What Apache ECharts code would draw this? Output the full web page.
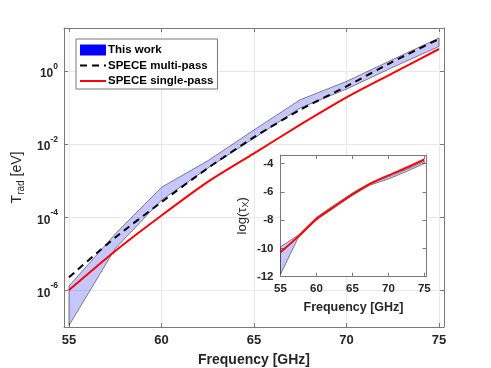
<!DOCTYPE html>
<html>
<head>
<meta charset="utf-8">
<script src="https://cdn.jsdelivr.net/npm/echarts@6/dist/echarts.min.js"></script>
<style>
html, body { margin: 0; padding: 0; background: #fff; }
#main { width: 491px; height: 368px; }
</style>
</head>
<body>
<div id="main"></div>
<script>
var freq = [55, 57.5, 60, 62.5, 65, 67.5, 70, 72.5, 75];

// main panel, T_rad [eV]
var workHigh = [1.32e-6, 3.5e-5, 6.6e-4, 3.5e-3, 0.0245, 0.164, 0.52, 2.07, 8.0];
var workLow = [1.1e-7, 1.4e-5, 2.95e-4, 2.2e-3, 0.0145, 0.098, 0.32, 1.26, 4.7];
var multiPass = [2.3e-6, 2.8e-5, 2.6e-4, 2.2e-3, 0.0155, 0.087, 0.38, 1.8, 7.5];
var singlePass = [1.02e-6, 1.2e-5, 1.12e-4, 9.3e-4, 5.6e-3, 0.034, 0.19, 0.87, 4.0];

// inset, log(tau_X)
var tauHigh = [-9.89, -9.05, -7.80, -6.92, -6.08, -5.38, -4.95, -4.42, -3.85];
var tauLow = [-11.84, -9.20, -7.98, -7.10, -6.25, -5.52, -5.10, -4.57, -4.00];
var tauSingle = [-10.27, -9.15, -7.93, -7.05, -6.18, -5.42, -4.84, -4.30, -3.72];

var FONT = "'Liberation Sans', Arial, sans-serif";
var AXIS_COLOR = '#7a7a7a';
var TEXT_COLOR = '#262626';

function pairs(ys) {
	return freq.map(function (f, i) { return [f, ys[i]]; });
}

function bandRenderer(lo, hi) {
	return function (params, api) {
		if (params.dataIndex !== 0) return;
		var pts = [];
		for (var i = 0; i < freq.length; i++) pts.push(api.coord([freq[i], hi[i]]));
		for (var j = freq.length - 1; j >= 0; j--) pts.push(api.coord([freq[j], lo[j]]));
		return {
			type: 'polygon',
			shape: { points: pts },
			style: { fill: 'rgba(0,0,255,0.22)', stroke: '#333', lineWidth: 0.6 }
		};
	};
}

function frameAxis(extra) {
	var base = {
		axisLine: { show: true, onZero: false, lineStyle: { color: AXIS_COLOR, width: 1 } },
		axisTick: { show: true, inside: true, length: 4, lineStyle: { color: AXIS_COLOR } },
		axisLabel: { show: false },
		splitLine: { show: false }
	};
	return Object.assign(base, extra);
}

var dom = document.getElementById('main');
var myChart = echarts.init(dom, null, { renderer: 'canvas' });

var option = {
	animation: false,
	textStyle: { fontFamily: FONT },
	grid: [
		{ left: 64, right: 47, top: 28, bottom: 41, outerBoundsMode: 'none' },
		{
			left: 280.5, right: 64.5, top: 155, bottom: 91.3, outerBoundsMode: 'none',
			show: true, backgroundColor: '#fff', borderWidth: 0, z: 5
		}
	],
	legend: {
		orient: 'vertical',
		left: 76,
		top: 39,
		itemWidth: 26,
		itemHeight: 11,
		itemGap: 3.5,
		padding: [5, 4, 2, 3],
		backgroundColor: '#fff',
		borderColor: AXIS_COLOR,
		borderWidth: 1,
		borderRadius: 0,
		selectedMode: false,
		textStyle: { fontFamily: FONT, fontSize: 11.5, fontWeight: 'bold', color: '#000', padding: [0, 0, 0, -3] },
		data: [
			{ name: 'This work', icon: 'rect' },
			{ name: 'SPECE multi-pass' },
			{ name: 'SPECE single-pass' }
		]
	},
	xAxis: [
		frameAxis({
			type: 'value', gridIndex: 0, position: 'bottom', min: 54.73, max: 75.27,
			axisLabel: {
				show: true, margin: 7, fontSize: 13, fontWeight: 'bold', color: TEXT_COLOR, fontFamily: FONT,
				formatter: function (v) { return Math.abs(v % 5) < 1e-6 ? String(v) : ''; }
			},
			splitLine: { show: true, lineStyle: { color: '#e8e8e8', width: 1 } },
			name: 'Frequency [GHz]', nameLocation: 'middle', nameGap: 26,
			nameTextStyle: { fontSize: 14, fontWeight: 'bold', color: TEXT_COLOR, fontFamily: FONT }
		}),
		frameAxis({ type: 'value', gridIndex: 0, position: 'top', min: 54.73, max: 75.27 }),
		frameAxis({
			type: 'value', gridIndex: 1, position: 'bottom', min: 55, max: 75.3, z: 6,
			axisLabel: {
				show: true, margin: 6, fontSize: 11.5, fontWeight: 'bold', color: TEXT_COLOR, fontFamily: FONT,
				formatter: function (v) { return Math.abs(v % 5) < 1e-6 ? String(v) : ''; }
			},
			name: 'Frequency [GHz]', nameLocation: 'middle', nameGap: 24,
			nameTextStyle: { fontSize: 12.5, fontWeight: 'bold', color: TEXT_COLOR, fontFamily: FONT }
		}),
		frameAxis({ type: 'value', gridIndex: 1, position: 'top', min: 55, max: 75.3, z: 6 })
	],
	yAxis: [
		frameAxis({
			type: 'log', logBase: 100, gridIndex: 0, position: 'left', min: 1e-7, max: 15,
			axisLabel: {
				show: true, margin: 6, color: TEXT_COLOR, fontFamily: FONT,
				formatter: function (v) {
					var l = Math.log10(v);
					var e = Math.round(l);
					if (Math.abs(l - e) > 1e-6 || e % 2 !== 0) return '';
					return '{b|10}{s|' + e + '}';
				},
				rich: {
					b: { fontSize: 12, fontWeight: 'bold', color: TEXT_COLOR, fontFamily: FONT, lineHeight: 18, verticalAlign: 'bottom' },
					s: { fontSize: 8.5, fontWeight: 'bold', color: TEXT_COLOR, fontFamily: FONT, lineHeight: 9, verticalAlign: 'top' }
				}
			},
			splitLine: { show: true, lineStyle: { color: '#e8e8e8', width: 1 } },
			name: 'T{sub|rad} [eV]', nameLocation: 'middle', nameRotate: 90, nameGap: 37,
			nameTextStyle: {
				fontSize: 14, color: TEXT_COLOR, fontFamily: FONT, lineHeight: 18,
				rich: { sub: { fontSize: 10, color: TEXT_COLOR, fontFamily: FONT, lineHeight: 9, verticalAlign: 'bottom' } }
			}
		}),
		frameAxis({ type: 'log', logBase: 100, gridIndex: 0, position: 'right', min: 1e-7, max: 15 }),
		frameAxis({
			type: 'value', gridIndex: 1, position: 'left', min: -12, max: -3.4, z: 6,
			axisLabel: {
				show: true, margin: 7, fontSize: 11.5, fontWeight: 'bold', color: TEXT_COLOR, fontFamily: FONT,
				formatter: function (v) { return Math.abs(v - Math.round(v)) < 1e-6 ? String(v) : ''; }
			},
			name: 'log(\u03c4{sub|X})', nameLocation: 'middle', nameRotate: 90, nameGap: 30,
			nameTextStyle: {
				fontSize: 13, color: TEXT_COLOR, fontFamily: FONT, lineHeight: 17,
				rich: { sub: { fontSize: 9, color: TEXT_COLOR, fontFamily: FONT, lineHeight: 9, verticalAlign: 'bottom' } }
			}
		}),
		frameAxis({ type: 'value', gridIndex: 1, position: 'right', min: -12, max: -3.4, z: 6 })
	],
	series: [
		{
			name: 'This work',
			type: 'custom',
			xAxisIndex: 0, yAxisIndex: 0,
			itemStyle: { color: '#0000ff' },
			renderItem: bandRenderer(workLow, workHigh),
			data: freq.map(function (f, i) { return [f, workLow[i], workHigh[i]]; }),
			encode: { x: 0, y: [1, 2] },
			clip: true,
			z: 2
		},
		{
			name: 'SPECE multi-pass',
			type: 'line',
			xAxisIndex: 0, yAxisIndex: 0,
			data: pairs(multiPass),
			symbol: 'none',
			smooth: 0.25,
			itemStyle: { color: '#000', opacity: 0 },
			lineStyle: { color: '#000', width: 2, type: [7, 5] },
			z: 3
		},
		{
			name: 'SPECE single-pass',
			type: 'line',
			xAxisIndex: 0, yAxisIndex: 0,
			data: pairs(singlePass),
			symbol: 'none',
			smooth: 0.25,
			itemStyle: { color: '#ff0000', opacity: 0 },
			lineStyle: { color: '#ff0000', width: 2 },
			z: 3
		},
		{
			name: 'inset band',
			type: 'custom',
			xAxisIndex: 2, yAxisIndex: 2,
			itemStyle: { color: '#0000ff' },
			renderItem: bandRenderer(tauLow, tauHigh),
			data: freq.map(function (f, i) { return [f, tauLow[i], tauHigh[i]]; }),
			encode: { x: 0, y: [1, 2] },
			clip: true,
			z: 7
		},
		{
			name: 'inset single',
			type: 'line',
			xAxisIndex: 2, yAxisIndex: 2,
			data: pairs(tauSingle),
			symbol: 'none',
			smooth: 0.25,
			lineStyle: { color: '#ff0000', width: 2 },
			itemStyle: { color: '#ff0000' },
			z: 8
		}
	]
};

if (option && typeof option === 'object') {
	myChart.setOption(option);
}

window.addEventListener('resize', myChart.resize);
</script>
</body>
</html>
